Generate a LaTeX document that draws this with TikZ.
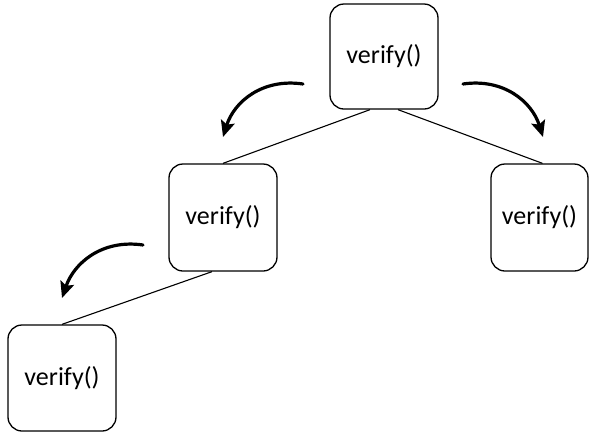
\documentclass[tikz,border=0pt]{standalone}
\usepackage{fontspec}
\setmainfont{Carlito}
\usetikzlibrary{arrows.meta}
\begin{document}
\begin{tikzpicture}[x=1pt,y=1pt,
  fnbox/.style={draw=black, line width=1.3pt, rounded corners=14pt, fill=white,
    inner sep=0pt, font=\fontsize{26}{30}\selectfont},
  link/.style={draw=black, line width=1.1pt},
  callarrow/.style={draw=black, line width=3.2pt, line cap=round,
    -{Stealth[length=16pt,width=14pt,inset=3pt]}}]
\useasboundingbox (0,0) rectangle (590,-432);
\node[fnbox, minimum width=108pt, minimum height=105pt] (top) at (384,-56.5) {verify()};
\node[fnbox, minimum width=108pt, minimum height=107pt] (mid) at (223,-217.5) {verify()};
\node[fnbox, minimum width=97pt, minimum height=107pt] (rgt) at (539.5,-217.5) {verify()};
\node[fnbox, minimum width=108pt, minimum height=106pt] (bot) at (62,-378) {verify()};
\draw[link] ([xshift=-14pt]top.south) -- (mid.north);
\draw[link] ([xshift=14pt]top.south) -- ([xshift=3pt]rgt.north);
\draw[link] ([xshift=-11pt]mid.south) -- (bot.north);
\coordinate (a1s) at (303,-84);
\coordinate (a1e) at (223,-137);
\coordinate (a2s) at (463,-84);
\coordinate (a2e) at (543,-137);
\coordinate (a3s) at (143,-245);
\coordinate (a3e) at (62,-298);
\draw[callarrow] (a1s) .. controls (262,-78) and (234,-102) .. (a1e);
\draw[callarrow] (a2s) .. controls (504,-78) and (532,-102) .. (a2e);
\draw[callarrow] (a3s) .. controls (102,-239) and (74,-263) .. (a3e);
\end{tikzpicture}
\end{document}
